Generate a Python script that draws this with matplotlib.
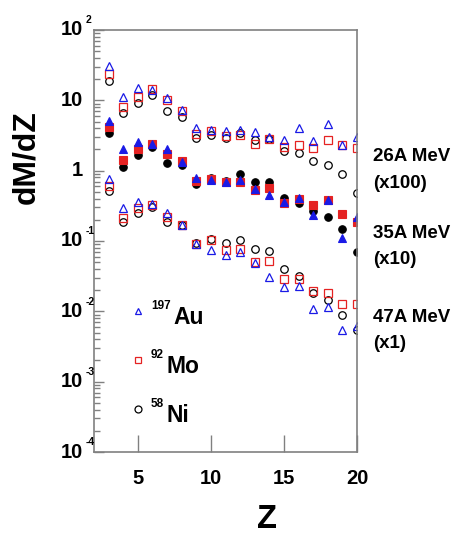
#!/usr/bin/env python3
import matplotlib
matplotlib.use("Agg")
import matplotlib.pyplot as plt
from matplotlib.ticker import LogLocator, NullFormatter, FixedLocator

plt.rcParams['font.family'] = ['Liberation Sans', 'DejaVu Sans']
plt.rcParams['font.weight'] = 'bold'

Z = list(range(3, 21))

# dM/dZ, unscaled, for each beam energy and target
au_26 = [0.303, 0.111, 0.150, 0.140, 0.107, 0.0726, 0.0407, 0.0377, 0.0364,
         0.0381, 0.0349, 0.0303, 0.0269, 0.0398, 0.0262, 0.0454, 0.0230, 0.0306]
mo_26 = [0.240, 0.0802, 0.113, 0.144, 0.100, 0.0703, 0.0327, 0.0361, 0.0313,
         0.0319, 0.0240, 0.0284, 0.0220, 0.0228, 0.0208, 0.0271, 0.0228, 0.0211]
ni_26 = [0.187, 0.0652, 0.0927, 0.119, 0.0697, 0.0585, 0.0289, 0.0319, 0.0289,
         0.0346, 0.0271, 0.0286, 0.0193, 0.0181, 0.0135, 0.0122, 0.00885, 0.00480]

au_35 = [0.506, 0.200, 0.259, 0.243, 0.204, 0.132, 0.0776, 0.0726, 0.0681,
         0.0726, 0.0553, 0.0458, 0.0357, 0.0407, 0.0235, 0.0381, 0.0110, 0.0218]
mo_35 = [0.416, 0.140, 0.206, 0.240, 0.173, 0.135, 0.0713, 0.0769, 0.0681,
         0.0681, 0.0524, 0.0566, 0.0352, 0.0398, 0.0327, 0.0377, 0.0240, 0.0189]
ni_35 = [0.338, 0.114, 0.166, 0.215, 0.129, 0.120, 0.0637, 0.0794, 0.0720,
         0.0897, 0.0681, 0.0681, 0.0407, 0.0352, 0.0269, 0.0222, 0.0147, 0.0069]

au_47 = [0.760, 0.293, 0.364, 0.334, 0.249, 0.168, 0.0906, 0.0743, 0.0631,
         0.0703, 0.0480, 0.0306, 0.0220, 0.0228, 0.0109, 0.0115, 0.00536, 0.00617]
mo_47 = [0.597, 0.211, 0.293, 0.327, 0.218, 0.168, 0.0897, 0.103, 0.0743,
         0.0760, 0.0497, 0.0518, 0.0286, 0.0284, 0.0195, 0.0182, 0.0127, 0.0127]
ni_47 = [0.518, 0.189, 0.249, 0.309, 0.189, 0.169, 0.0927, 0.107, 0.0946,
         0.103, 0.0760, 0.0713, 0.0394, 0.0319, 0.0185, 0.0144, 0.00897, 0.00548]

energies = ['26A MeV', '35A MeV', '47A MeV']
scales = [100, 10, 1]
scale_labels = ['(x100)', '(x10)', '(x1)']
filled = [False, True, False]

targets = ['Au', 'Mo', 'Ni']
masses = ['197', '92', '58']
markers = ['^', 's', 'o']
colors = ['#1a1ae6', '#e52222', '#000000']

series = {
    '26A MeV': [au_26, mo_26, ni_26],
    '35A MeV': [au_35, mo_35, ni_35],
    '47A MeV': [au_47, mo_47, ni_47],
}

ytick_vals = [1e-4, 1e-3, 1e-2, 1e-1, 1, 10, 100]
ytick_base = ['10', '10', '10', '10', '1', '10', '10']
ytick_exp = ['-4', '-3', '-2', '-1', '', '', '2']
xtick_vals = [5, 10, 15, 20]

W, H = 459, 534
fig = plt.figure(figsize=(W / 100, H / 100), dpi=100)
ax = fig.add_axes([94 / W, 82 / H, 263 / W, 422 / H])

# draw Ni first so the triangles end up on top
for e, s, f in zip(energies, scales, filled):
    for k in (2, 1, 0):
        y = [v * s for v in series[e][k]]
        if f:
            ax.plot(Z, y, ls='none', marker=markers[k], ms=5.4,
                    mfc=colors[k], mec=colors[k], mew=0.8)
        else:
            ax.plot(Z, y, ls='none', marker=markers[k], ms=5.4,
                    mfc='none', mec=colors[k], mew=0.9)

ax.set_yscale('log')
ax.set_xlim(2, 20)
ax.set_ylim(1e-4, 1e2)

gray = '#808080'
for sp in ax.spines.values():
    sp.set_color(gray)
    sp.set_linewidth(1.2)

ax.xaxis.set_major_locator(FixedLocator(xtick_vals))
ax.tick_params(axis='x', which='major', direction='in', length=12, width=1,
               color=gray, labelsize=14.5, pad=12, top=False)
ax.tick_params(axis='x', which='minor', bottom=False, top=False)

ax.yaxis.set_major_locator(FixedLocator(ytick_vals))
ax.yaxis.set_minor_locator(LogLocator(base=10, subs=range(2, 10), numticks=20))
ax.yaxis.set_major_formatter(NullFormatter())
ax.yaxis.set_minor_formatter(NullFormatter())
ax.tick_params(axis='y', which='major', direction='in', length=7, width=1,
               color=gray, right=False)
ax.tick_params(axis='y', which='minor', direction='in', length=4.5, width=1,
               color=gray, right=False)

# decade labels with small exponents
ytr = ax.get_yaxis_transform()
for v, b, ex in zip(ytick_vals, ytick_base, ytick_exp):
    ax.annotate(b, xy=(0, v), xycoords=ytr, xytext=(-7.7, 0),
                textcoords='offset points', ha='right', va='center',
                size=14.5, annotation_clip=False)
    if ex:
        ax.annotate(ex, xy=(0, v), xycoords=ytr, xytext=(-5.8, 4.8),
                    textcoords='offset points', ha='left', va='baseline',
                    size=7.5, annotation_clip=False)

# target legend
for k, yk in zip(range(3), [0.333, 0.218, 0.101]):
    ax.plot([0.167], [yk], transform=ax.transAxes, ls='none',
            marker=markers[k], ms=5, mfc='none', mec=colors[k], mew=0.9,
            clip_on=False)
    sup = ax.annotate(masses[k], xy=(0.167, yk), xycoords='axes fraction',
                      xytext=(9.4, 1.5), textcoords='offset points',
                      ha='left', va='baseline', size=8.5)
    ax.annotate(targets[k], xy=(1, 0), xycoords=sup, xytext=(2, -8.6),
                textcoords='offset points', ha='left', va='baseline',
                size=16.5)

# energy / scale labels on the right
for e, sl, yp in zip(energies, scale_labels, [157, 233, 318]):
    fig.text(373 / W, 1 - yp / H, e, ha='left', va='center', size=13.5)
    fig.text(373 / W, 1 - (yp + 26) / H, sl, ha='left', va='center', size=13.5)

fig.text(26 / W, 1 - 157 / H, 'dM/dZ', rotation=90, ha='center',
         va='center', size=23)
fig.text(267 / W, 1 - 520 / H, 'Z', ha='center', va='center', size=23.5)

fig.savefig('out.png', dpi=100)
